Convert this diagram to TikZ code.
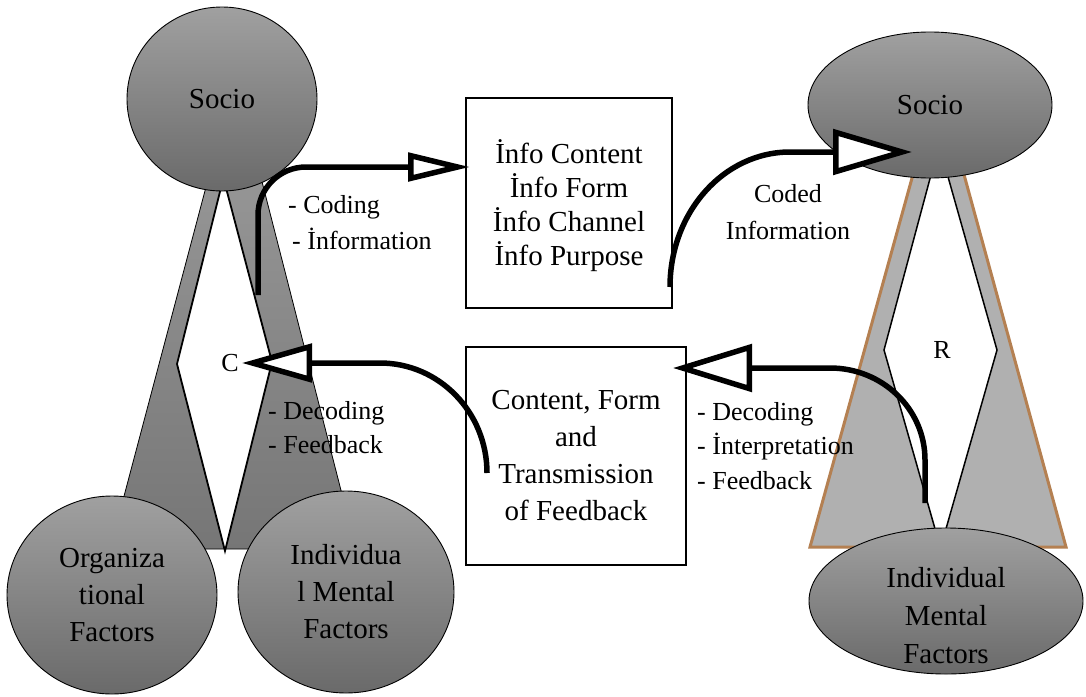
\documentclass[tikz,border=0pt]{standalone}
\usepackage{fontspec}
\setmainfont{Liberation Serif}
\usetikzlibrary{arrows.meta,shapes.geometric}
\definecolor{ellTop}{RGB}{160,160,160}
\definecolor{ellBot}{RGB}{106,106,106}
\definecolor{legTop}{RGB}{150,150,150}
\definecolor{legBot}{RGB}{118,118,118}
\definecolor{legLight}{RGB}{176,176,176}
\definecolor{legBrown}{RGB}{180,128,82}
\begin{document}
\begin{tikzpicture}[x=1pt,y=-1pt,
  blob/.style={ellipse, draw=black, line width=0.9pt, top color=ellTop, bottom color=ellBot,
    inner sep=0pt, align=center, font=\fontsize{29}{37}\selectfont},
  blobtext/.style={inner sep=0pt, align=center, font=\fontsize{29}{38}\selectfont},
  infobox/.style={rectangle, draw=black, line width=1.6pt, fill=white, inner sep=0pt, align=center},
  lbl/.style={inner sep=0pt, align=left, anchor=base west},
  letter/.style={inner sep=0pt, font=\fontsize{26}{30}\selectfont},
  conn/.style={line width=5.5pt, line join=miter},
  tipsize/.style 2 args={-{Triangle[fill=white,length=#1,width=#2]}}
]
\useasboundingbox (0,0) rectangle (1086,696);

% ---------- left figure (legs) ----------
\path[top color=legTop, bottom color=legBot, draw=black, line width=0.8pt]
  (210.5,170) -- (110,549) -- (356,549) -- (259,170) -- cycle;
\draw[fill=white, line width=1.8pt] (223.4,178) -- (177,364) -- (225,551) -- (272,362) -- cycle;

% ---------- right figure (legs) ----------
\fill[legLight] (917,160) -- (810,547) -- (1066,547) -- (960,160) -- cycle;
\draw[legBrown, line width=3pt, line join=miter] (917,160) -- (810,547) -- (1066,547) -- (960,160);
\draw[fill=white, line width=1.5pt] (939,145) -- (884,350) -- (940.5,548) -- (997,350) -- cycle;

% ---------- ellipses ----------
\node[blob, minimum width=190pt, minimum height=184pt] (socL) at (222,99) {Socio};
\node[blob, minimum width=210pt, minimum height=198pt] (org) at (112,595) {Organiza\\tional\\Factors};
\node[blob, minimum width=216pt, minimum height=202pt] (indL) at (346,592) {Individua\\l Mental\\Factors};
\node[blob, minimum width=244pt, minimum height=146pt] (socR) at (930,105) {Socio};
\node[blob, minimum width=274pt, minimum height=146pt] (indR) at (946,601) {};
\node[blobtext] (indRt) at (946,616) {Individual\\Mental\\Factors};

% ---------- boxes ----------
\node[infobox, minimum width=206pt, minimum height=210pt, text depth=0pt, font=\fontsize{29}{34}\selectfont]
  (box1) at (569,203) {İnfo Content\\İnfo Form\\İnfo Channel\\İnfo Purpose};
\node[infobox, minimum width=220pt, minimum height=218pt, font=\fontsize{29}{37}\selectfont]
  (box2) at (576,456) {Content, Form\\and\\Transmission\\of Feedback};

% ---------- labels (base = baseline of last line) ----------
\node[lbl, font=\fontsize{26}{36}\selectfont] (lcode) at (288,249) {- Coding\\\hspace*{4pt}- İnformation};
\node[lbl, font=\fontsize{26}{34}\selectfont] (ldec) at (268,453) {- Decoding\\- Feedback};
\node[lbl, align=center, anchor=base, font=\fontsize{26}{37}\selectfont] (coded) at (788,239) {Coded\\Information};
\node[lbl, font=\fontsize{26}{34.5}\selectfont] (rdec) at (697,489) {- Decoding\\- İnterpretation\\- Feedback};
\node[letter] (cC) at (230,363) {C};
\node[letter] (rR) at (942,350) {R};

% ---------- connectors ----------
\coordinate (a1s) at (258,295);
\coordinate (a1t) at (470,167);
\coordinate (a2s) at (670,287);
\coordinate (a2m) at (790,152);
\coordinate (a2t) at (912,152);
\coordinate (a3s) at (487,473);
\coordinate (a3m) at (380,363);
\coordinate (a3t) at (242,363);
\coordinate (a4s) at (925,503);
\coordinate (a4b) at (925,460);
\coordinate (a4m) at (830,368);
\coordinate (a4t) at (673,368);

\draw[conn, tipsize={62pt}{28pt}, rounded corners=48pt] (a1s) |- (a1t);
\draw[conn, tipsize={79pt}{45pt}] (a2s) .. controls +(0,-75) and +(-66,0) .. (a2m) -- (a2t);
\draw[conn, tipsize={70pt}{38pt}] (a3s) .. controls +(0,-61) and +(59,0) .. (a3m) -- (a3t);
\draw[conn, tipsize={79pt}{47pt}] (a4s) -- (a4b) .. controls +(0,-51) and +(52.5,0) .. (a4m) -- (a4t);
\end{tikzpicture}
\end{document}
